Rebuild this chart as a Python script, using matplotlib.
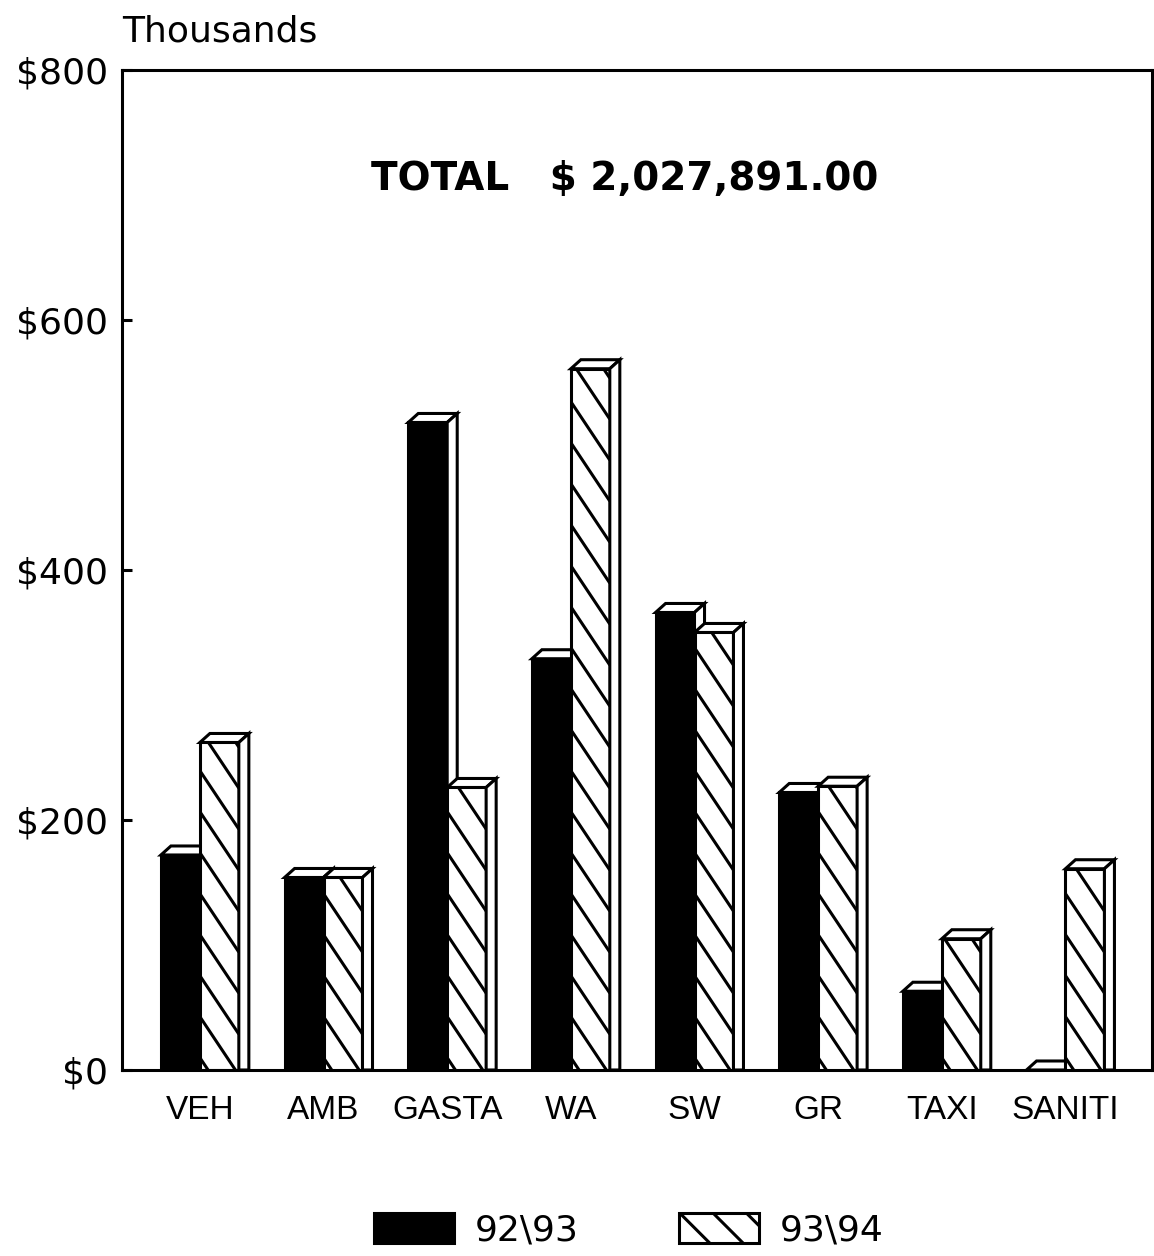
import numpy as np
import matplotlib
matplotlib.use('Agg')
import matplotlib.pyplot as plt
from matplotlib.patches import Rectangle, Polygon, Patch
from matplotlib.collections import LineCollection

categories = ['VEH', 'AMB', 'GASTA', 'WA', 'SW', 'GR', 'TAXI', 'SANITI']
fy9293 = [172, 154, 518, 329, 366, 222, 63, 0]
fy9394 = [262, 154, 226, 561, 350, 227, 105, 161]
series_labels = ['92\\93', '93\\94']
yticks = [0, 200, 400, 600, 800]
ytick_labels = ['$0', '$200', '$400', '$600', '$800']
total_text = 'TOTAL   $ 2,027,891.00'

W, H, DPI = 1154, 1256, 200
fig = plt.figure(figsize=(W / DPI, H / DPI), dpi=DPI)
ax = fig.add_axes([0.1057, 0.1481, 0.8926, 0.7962])
xmin, xmax = -0.63, 7.70
ax.set_xlim(xmin, xmax)
ax.set_ylim(0, 800)

lw = 1.1
bw = 0.315      # bar width
ddx = 0.081     # depth offset, x units
ddy = 7.2       # depth offset, value units

# pixels per data unit, used to lay the hatch lines at a fixed screen angle
ppx = W * 0.8926 / (xmax - xmin)
ppy = H * 0.7962 / 800
slope = 1.5 * ppx / ppy
step = 41 / ppy


def hatch(patch, x0, h):
    span = h + slope * bw + step
    cs = np.arange(step * 0.3, span, step)
    segs = [[(x0, c), (x0 + bw, c - slope * bw)] for c in cs]
    lc = LineCollection(segs, colors='black', linewidths=lw, zorder=patch.get_zorder() + 0.1)
    ax.add_collection(lc)
    lc.set_clip_path(patch)


def bar3d(x0, h, z, hatched):
    x1 = x0 + bw
    face = Rectangle((x0, 0), bw, h, facecolor='white' if hatched else 'black',
                     edgecolor='black', lw=lw, zorder=z)
    ax.add_patch(face)
    if hatched and h > 0:
        hatch(face, x0, h)
    top = Polygon([(x0, h), (x0 + ddx, h + ddy), (x1 + ddx, h + ddy), (x1, h)],
                  closed=True, facecolor='white', edgecolor='black', lw=lw, zorder=z + 0.2)
    side = Polygon([(x1, 0), (x1, h), (x1 + ddx, h + ddy), (x1 + ddx, 0)],
                   closed=True, facecolor='white', edgecolor='black', lw=lw, zorder=z + 0.2)
    ax.add_patch(top)
    ax.add_patch(side)


for i in range(len(categories)):
    bar3d(i - bw, fy9293[i], 2 + i, False)
    bar3d(i, fy9394[i], 2.5 + i, True)

ax.set_yticks(yticks)
ax.set_yticklabels(ytick_labels, fontsize=13)
ax.set_xticks(range(len(categories)))
ax.set_xticklabels(categories, fontsize=12,
                   family=['Liberation Sans', 'DejaVu Sans'])
ax.tick_params(axis='y', direction='in', length=3.5, width=lw, pad=5)
ax.tick_params(axis='x', length=0, pad=9)
for s in ax.spines.values():
    s.set_linewidth(lw)

ax.text(0.488, 0.88, total_text, transform=ax.transAxes, ha='center',
        va='baseline', fontsize=14, fontweight='bold')
fig.text(0.1057, 0.9666, 'Thousands', fontsize=13, va='baseline', ha='left')

plt.rcParams['hatch.linewidth'] = lw
handles = [Patch(facecolor='black', edgecolor='black', lw=lw),
           Patch(facecolor='white', edgecolor='black', hatch='\\\\', lw=lw)]
fig.legend(handles, series_labels, loc='center', bbox_to_anchor=(0.545, 0.0207),
           ncol=2, frameon=False, fontsize=13, handlelength=2.2, handleheight=0.92,
           handletextpad=0.58, columnspacing=2.8)

fig.savefig('out.png', dpi=DPI)
